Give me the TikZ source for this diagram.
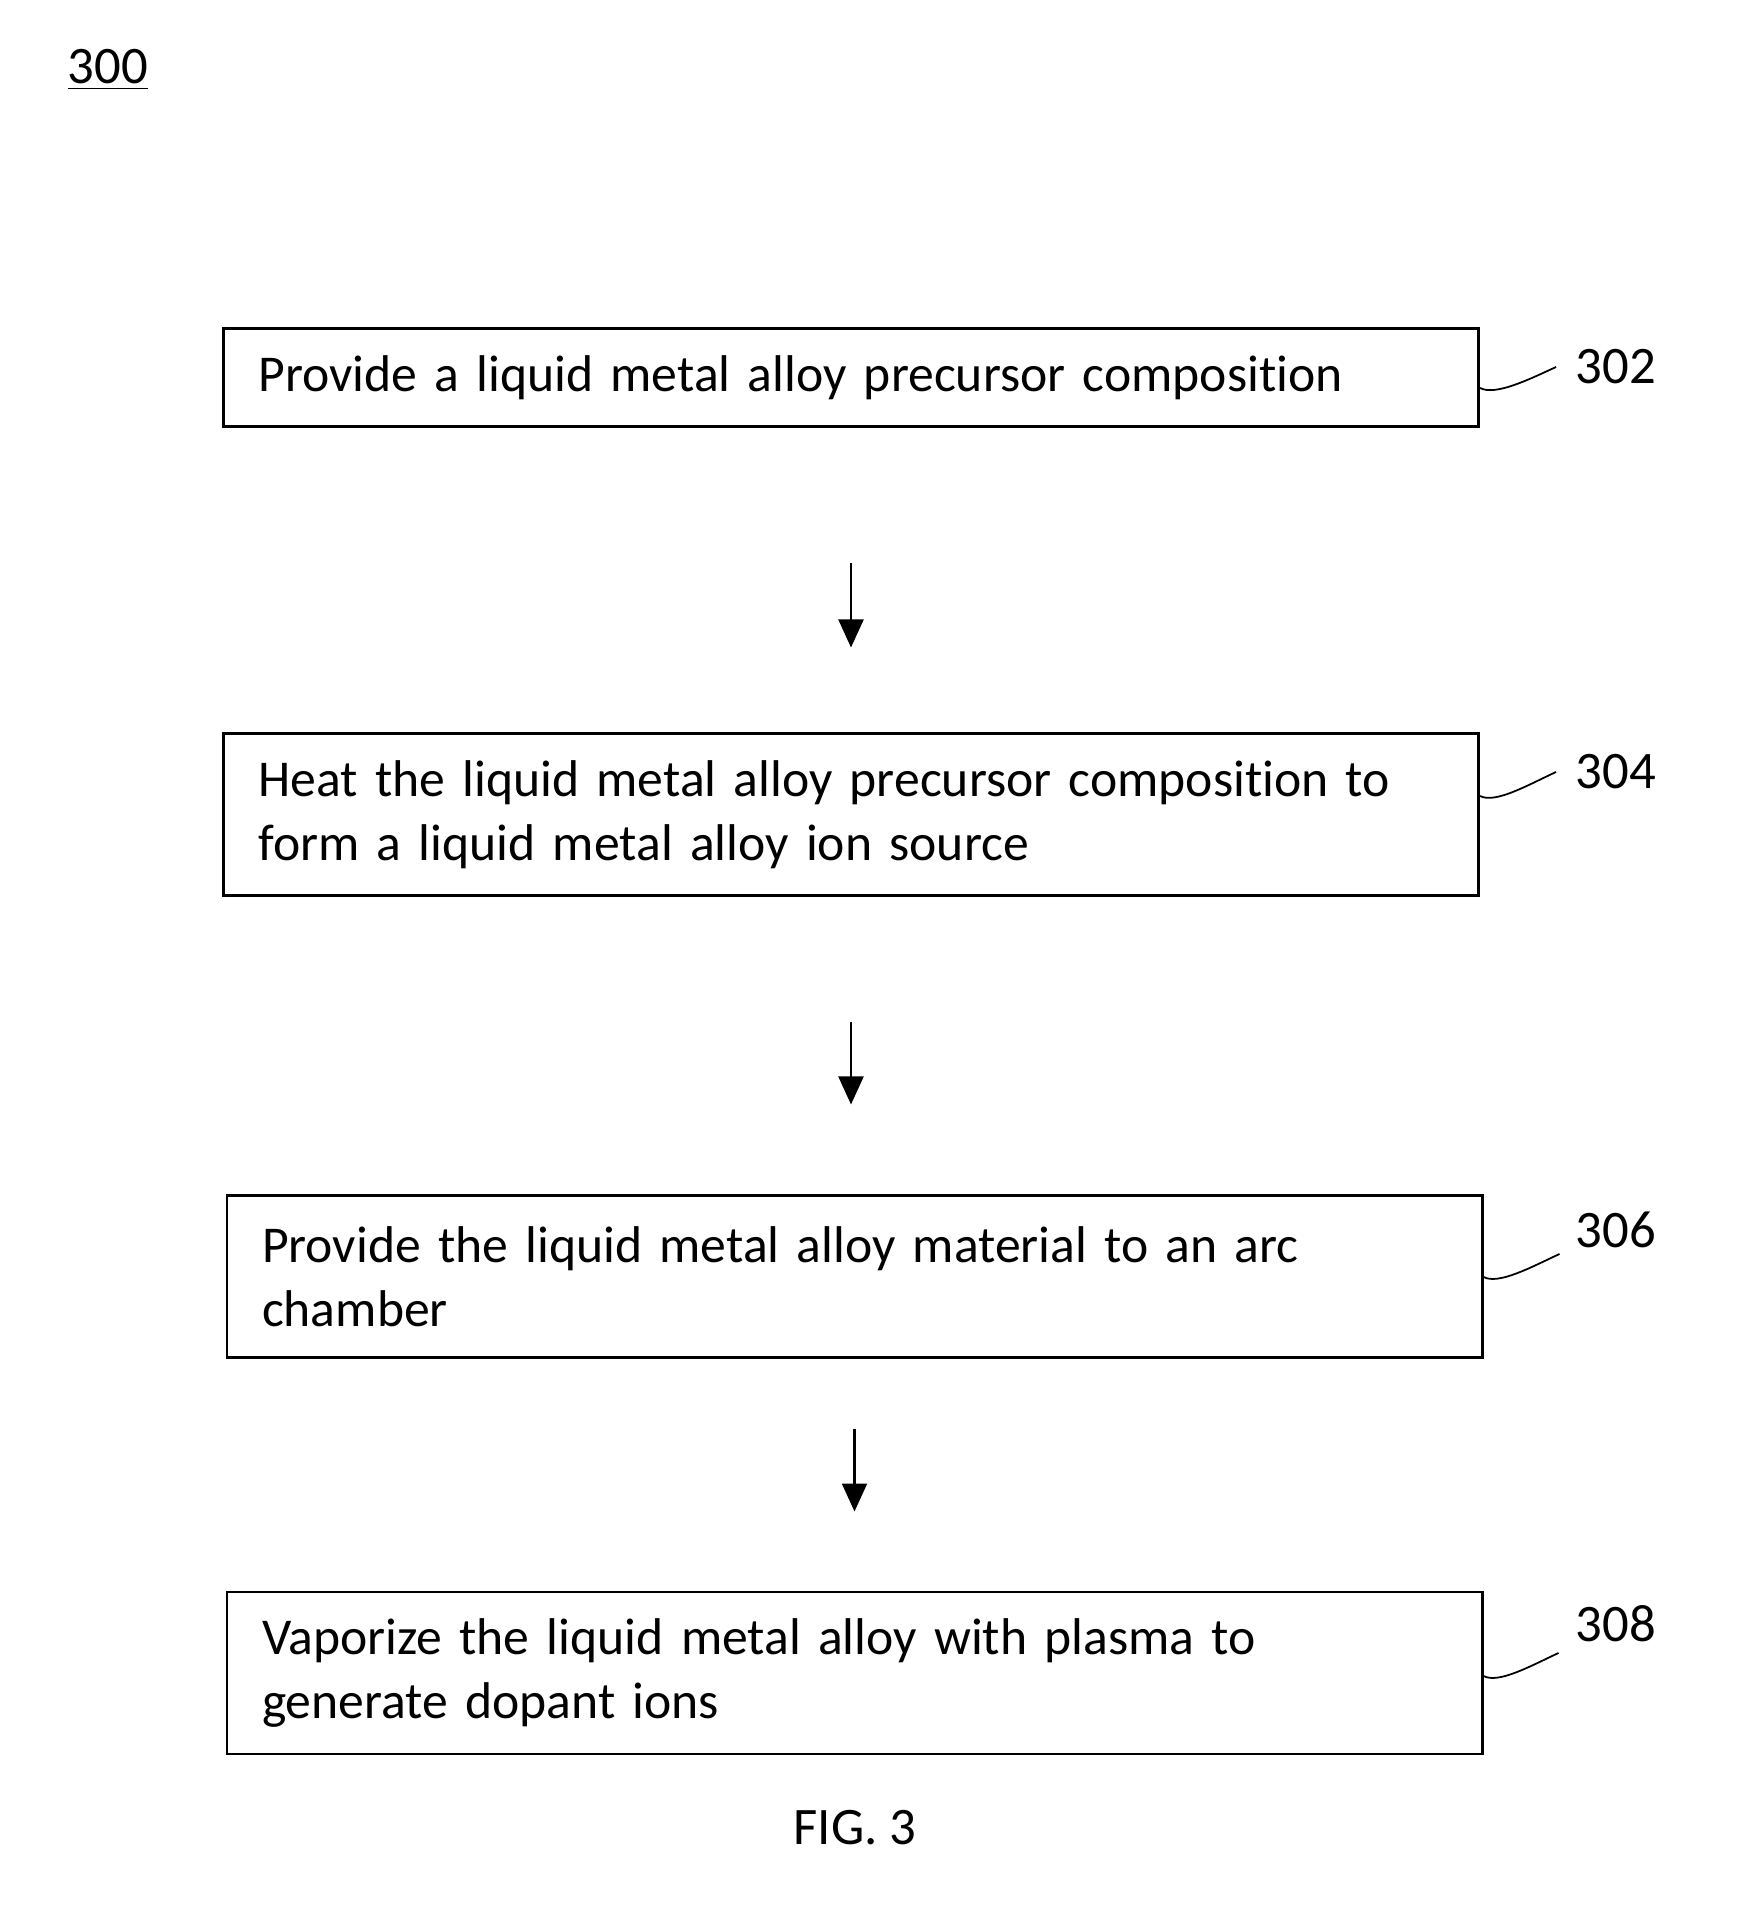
\documentclass[tikz,border=0pt]{standalone}
\usepackage{fontspec}
\setmainfont{Carlito}[Ligatures=NoCommon]
\usetikzlibrary{arrows.meta, positioning}

\begin{document}
\begin{tikzpicture}[
  font=\fontsize{14.7}{18.3}\selectfont,
  passo/.style={draw=black, line width=0.85pt, fill=white, align=left,
                inner xsep=0.35cm, inner ysep=0pt, text width=11.85cm},
  passobasso/.style={passo, minimum height=0.98cm},
  passoalto/.style={passo, minimum height=1.62cm},
  etichetta/.style={font=\fontsize{15}{18}\selectfont, inner sep=0pt},
  freccia/.style={draw=black, line width=0.6pt,
                  -{Triangle[length=2.8mm, width=2.5mm]}},
  richiamo/.style={draw=black, line width=0.5pt}
]

% Cornice fissa: la pagina e' grande quanto la figura originale.
\useasboundingbox (0,0) rectangle (17.58,19.17);

% ---- numero della figura ---------------------------------------------
\node[etichetta] (n300) at (1.08,18.47) {\underline{300}};

% ---- blocchi: passi del procedimento -----------------------------------
\node[passobasso] (p302) at (8.51,15.39)
  {Provide a liquid metal alloy precursor composition};
\node[passoalto]  (p304) at (8.51,11.02)
  {Heat the liquid metal alloy precursor composition to\\
   form a liquid metal alloy ion source};
\node[passoalto]  (p306) at (8.545,6.40)
  {Provide the liquid metal alloy material to an arc\\
   chamber};
\node[passoalto]  (p308) at (8.545,2.44)
  {Vaporize the liquid metal alloy with plasma to\\
   generate dopant ions};

% ---- riferimenti numerici ----------------------------------------------
\node[etichetta] (e302) at (16.16,15.50) {302};
\node[etichetta] (e304) at (16.16,11.45) {304};
\node[etichetta] (e306) at (16.16,6.87)  {306};
\node[etichetta] (e308) at (16.16,2.93)  {308};

% ---- frecce tra i passi --------------------------------------------------
\draw[freccia, shorten <=1.35cm, shorten >=0.85cm] (p302.south) -- (p304.north);
\draw[freccia, shorten <=1.25cm, shorten >=0.90cm] (p304.south) -- (p304.south |- p306.north);
\draw[freccia, shorten <=0.70cm, shorten >=0.79cm] (p306.south) -- (p308.north);

% ---- linee di richiamo verso i numeri -------------------------------------
\draw[richiamo] ([yshift=-0.10cm]p302.east)
  .. controls +(0.15,-0.08) and +(-0.28,-0.13) .. +(0.76,0.21);
\draw[richiamo] ([yshift=0.19cm]p304.east)
  .. controls +(0.15,-0.08) and +(-0.28,-0.13) .. +(0.76,0.24);
\draw[richiamo] (p306.east)
  .. controls +(0.15,-0.08) and +(-0.28,-0.13) .. +(0.76,0.23);
\draw[richiamo] ([yshift=-0.03cm]p308.east)
  .. controls +(0.15,-0.08) and +(-0.28,-0.13) .. +(0.75,0.23);

% ---- didascalia ------------------------------------------------------------
\node[etichetta] (fig) at (8.55,0.89) {FIG. 3};

\end{tikzpicture}
\end{document}
